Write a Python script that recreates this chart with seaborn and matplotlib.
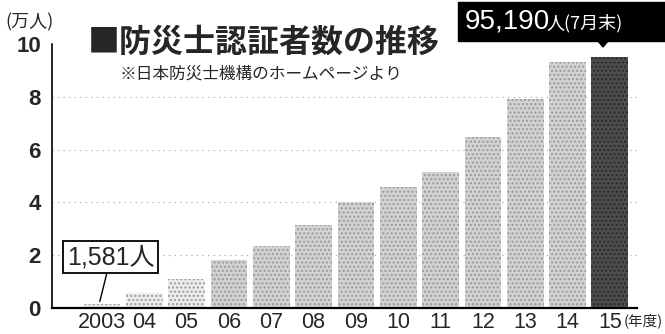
import matplotlib.pyplot as plt
import matplotlib.patches as mpatches
import seaborn as sns

# 防災士認証者数 (万人)
years = ['2003', '04', '05', '06', '07', '08', '09', '10', '11', '12', '13', '14', '15']
members = [0.1581, 0.57, 1.1, 1.82, 2.35, 3.14, 4.0, 4.58, 5.15, 6.48, 7.9, 9.3, 9.519]
y_ticks = [0, 2, 4, 6, 8, 10]
grid_levels = [2, 4, 6, 8]

title = '■防災士認証者数の推移'
source_note = '※日本防災士機構のホームページより'
unit_label = '(万人)'
x_unit = '(年度)'
first_note = '1,581人'
last_num = '95,190'
last_suffix = '人(7月末)'

sns.set_style('white')
plt.rcParams['font.family'] = ['Noto Sans CJK JP', 'DejaVu Sans']
num_font = ['Liberation Sans', 'Noto Sans CJK JP']

W, H = 665, 334
fig = plt.figure(figsize=(W / 100, H / 100), dpi=100)
ax = fig.add_axes([52 / W, 1 - 308 / H, (637 - 52) / W, (308 - 44) / H])

light = '#ececec'
mid = '#d2d2d2'
dark = '#4d4d4d'
colors = [light, light, light] + [mid] * 9 + [dark]

for lvl in grid_levels:
    ax.axhline(lvl, color='#a0a0a0', linestyle=(0, (1, 4)), linewidth=0.8, zorder=0)

sns.barplot(x=years, y=members, hue=years, palette=colors, order=years,
            legend=False, width=0.87, ax=ax, zorder=2)

for i, p in enumerate(ax.patches):
    p.set_linewidth(0)
    p.set_hatch('....')
    p.set_edgecolor('#9a9a9a' if i < len(years) - 1 else '#2a2a2a')

ax.set_xlim(-1.18, 12.64)
ax.set_ylim(0, 10)
ax.set_yticks(y_ticks)
ax.set_yticklabels([str(v) for v in y_ticks], fontsize=16, fontweight='bold', family=num_font)
ax.set_xticks(range(len(years)))
ax.set_xticklabels(years, fontsize=15.5, family=num_font)
ax.tick_params(axis='both', length=0)
ax.tick_params(axis='y', pad=8)
ax.tick_params(axis='x', pad=3)
ax.set_xlabel('')
ax.set_ylabel('')
sns.despine(ax=ax, top=True, right=True)
ax.spines['left'].set_linewidth(1.2)
ax.spines['bottom'].set_linewidth(1.6)
ax.spines['left'].set_color('black')
ax.spines['bottom'].set_color('black')

# annotation for the first year
ax.annotate(first_note, xy=(-0.05, 0.25), xytext=(0.21, 1.93),
            ha='center', va='center', fontsize=18, family=num_font,
            bbox=dict(boxstyle='square,pad=0.15', fc='white', ec='black', lw=1.3),
            arrowprops=dict(arrowstyle='-', color='black', lw=1.0,
                            shrinkA=0, shrinkB=0), zorder=5)

# texts around the chart
fig.text(5 / W, 1 - 22 / H, unit_label, fontsize=13, va='center', ha='left')
fig.text(88 / W, 1 - 43 / H, title, fontsize=23, fontweight='bold', va='center', ha='left')
fig.text(120 / W, 1 - 74 / H, source_note, fontsize=12, va='center', ha='left')
fig.text(624 / W, 1 - 321 / H, x_unit, fontsize=10.5, va='center', ha='left')

# black callout for the latest value
fig.patches.append(mpatches.Rectangle((458 / W, 1 - 41 / H), (W - 458) / W, 39 / H,
                                      transform=fig.transFigure, color='black', zorder=3))
fig.patches.append(mpatches.Polygon([(598 / W, 1 - 41 / H), (608 / W, 1 - 41 / H),
                                     (603 / W, 1 - 47 / H)], closed=True,
                                    transform=fig.transFigure, color='black', zorder=3))
fig.text(465 / W, 1 - 22 / H, last_num, fontsize=20, color='white', va='center',
         ha='left', family=num_font, zorder=4)
fig.text(546 / W, 1 - 23 / H, last_suffix, fontsize=13, color='white', va='center',
         ha='left', zorder=4)

fig.savefig('out.png', dpi=100)
